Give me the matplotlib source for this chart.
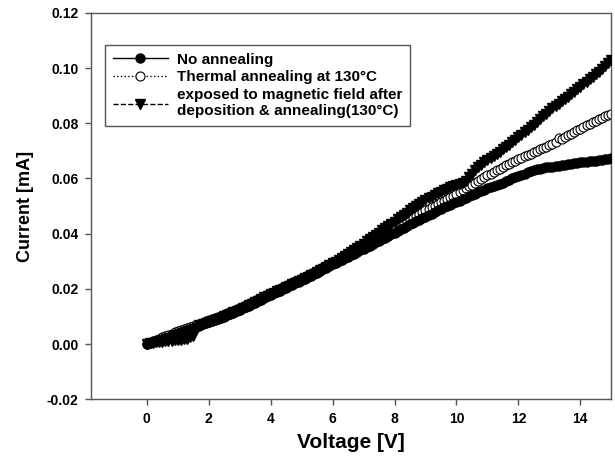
import numpy as np
import matplotlib
matplotlib.use("Agg")
import matplotlib.pyplot as plt

plt.rcParams['font.family'] = ['Liberation Sans', 'DejaVu Sans']
plt.rcParams['font.weight'] = 'bold'

# voltage sweep, 0.1 V steps from 0 to 15 V
voltage = np.linspace(0, 15, 151)

# current [mA]
no_annealing = [
    0.0000, 0.0003, 0.0007, 0.0011, 0.0015, 0.0019, 0.0023, 0.0027, 0.0031, 0.0035,
    0.0039, 0.0043, 0.0047, 0.0051, 0.0055, 0.0059, 0.0063, 0.0067, 0.0071, 0.0075,
    0.0079, 0.0083, 0.0087, 0.0091, 0.0095, 0.0099, 0.0104, 0.0109, 0.0114, 0.0119,
    0.0124, 0.0129, 0.0134, 0.0139, 0.0144, 0.0149, 0.0155, 0.0161, 0.0167, 0.0173,
    0.0179, 0.0184, 0.0189, 0.0194, 0.0199, 0.0204, 0.0209, 0.0215, 0.0220, 0.0226,
    0.0231, 0.0237, 0.0242, 0.0248, 0.0253, 0.0259, 0.0265, 0.0271, 0.0277, 0.0283,
    0.0289, 0.0295, 0.0300, 0.0306, 0.0311, 0.0317, 0.0322, 0.0328, 0.0333, 0.0339,
    0.0344, 0.0350, 0.0356, 0.0362, 0.0368, 0.0374, 0.0380, 0.0386, 0.0392, 0.0398,
    0.0404, 0.0410, 0.0416, 0.0422, 0.0428, 0.0434, 0.0440, 0.0445, 0.0451, 0.0456,
    0.0462, 0.0467, 0.0473, 0.0478, 0.0484, 0.0489, 0.0495, 0.0500, 0.0505, 0.0510,
    0.0515, 0.0520, 0.0525, 0.0530, 0.0535, 0.0540, 0.0545, 0.0550, 0.0555, 0.0560,
    0.0565, 0.0569, 0.0573, 0.0577, 0.0581, 0.0585, 0.0590, 0.0595, 0.0600, 0.0605,
    0.0610, 0.0614, 0.0618, 0.0622, 0.0626, 0.0630, 0.0633, 0.0636, 0.0638, 0.0640,
    0.0642, 0.0643, 0.0645, 0.0646, 0.0648, 0.0650, 0.0652, 0.0653, 0.0655, 0.0656,
    0.0658, 0.0659, 0.0661, 0.0662, 0.0664, 0.0665, 0.0667, 0.0668, 0.0670, 0.0671,
    0.0673]

thermal = [
    0.0000, 0.0005, 0.0010, 0.0015, 0.0020, 0.0025, 0.0030, 0.0034, 0.0038, 0.0042,
    0.0046, 0.0050, 0.0054, 0.0058, 0.0062, 0.0066, 0.0070, 0.0074, 0.0078, 0.0082,
    0.0086, 0.0090, 0.0094, 0.0098, 0.0102, 0.0106, 0.0111, 0.0116, 0.0121, 0.0126,
    0.0131, 0.0136, 0.0141, 0.0146, 0.0151, 0.0156, 0.0162, 0.0168, 0.0174, 0.0180,
    0.0185, 0.0190, 0.0195, 0.0200, 0.0205, 0.0210, 0.0216, 0.0221, 0.0227, 0.0232,
    0.0238, 0.0243, 0.0249, 0.0254, 0.0260, 0.0266, 0.0272, 0.0278, 0.0284, 0.0290,
    0.0295, 0.0301, 0.0306, 0.0312, 0.0317, 0.0323, 0.0328, 0.0334, 0.0339, 0.0345,
    0.0350, 0.0356, 0.0362, 0.0368, 0.0374, 0.0381, 0.0388, 0.0395, 0.0402, 0.0409,
    0.0416, 0.0423, 0.0430, 0.0437, 0.0444, 0.0451, 0.0458, 0.0465, 0.0472, 0.0478,
    0.0484, 0.0490, 0.0496, 0.0502, 0.0508, 0.0514, 0.0520, 0.0526, 0.0532, 0.0538,
    0.0544, 0.0551, 0.0558, 0.0565, 0.0572, 0.0578, 0.0585, 0.0592, 0.0598, 0.0605,
    0.0612, 0.0618, 0.0624, 0.0630, 0.0636, 0.0642, 0.0648, 0.0654, 0.0660, 0.0665,
    0.0670, 0.0675, 0.0680, 0.0685, 0.0690, 0.0695, 0.0700, 0.0705, 0.0710, 0.0715,
    0.0720, 0.0726, 0.0732, 0.0745, 0.0744, 0.0750, 0.0756, 0.0762, 0.0768, 0.0774,
    0.0780, 0.0786, 0.0792, 0.0798, 0.0804, 0.0810, 0.0815, 0.0820, 0.0825, 0.0830,
    0.0835]

magnetic = [
    0.0000, 0.0002, 0.0004, 0.0006, 0.0008, 0.0009, 0.0010, 0.0011, 0.0012, 0.0013,
    0.0014, 0.0016, 0.0018, 0.0020, 0.0024, 0.0030, 0.0055, 0.0068, 0.0072, 0.0076,
    0.0080, 0.0084, 0.0088, 0.0092, 0.0096, 0.0100, 0.0105, 0.0110, 0.0115, 0.0120,
    0.0125, 0.0131, 0.0136, 0.0141, 0.0146, 0.0151, 0.0157, 0.0163, 0.0169, 0.0175,
    0.0181, 0.0186, 0.0191, 0.0196, 0.0201, 0.0206, 0.0211, 0.0217, 0.0222, 0.0228,
    0.0233, 0.0239, 0.0244, 0.0250, 0.0255, 0.0261, 0.0267, 0.0273, 0.0279, 0.0285,
    0.0292, 0.0298, 0.0305, 0.0312, 0.0319, 0.0326, 0.0333, 0.0340, 0.0348, 0.0356,
    0.0364, 0.0372, 0.0380, 0.0388, 0.0396, 0.0404, 0.0412, 0.0420, 0.0428, 0.0436,
    0.0444, 0.0452, 0.0460, 0.0468, 0.0476, 0.0484, 0.0492, 0.0500, 0.0508, 0.0516,
    0.0522, 0.0528, 0.0534, 0.0540, 0.0546, 0.0552, 0.0558, 0.0563, 0.0568, 0.0573,
    0.0577, 0.0580, 0.0583, 0.0592, 0.0606, 0.0618, 0.0630, 0.0641, 0.0650, 0.0658,
    0.0666, 0.0674, 0.0682, 0.0690, 0.0697, 0.0705, 0.0714, 0.0723, 0.0732, 0.0741,
    0.0750, 0.0759, 0.0768, 0.0777, 0.0786, 0.0795, 0.0805, 0.0815, 0.0825, 0.0835,
    0.0846, 0.0855, 0.0863, 0.0871, 0.0879, 0.0887, 0.0896, 0.0905, 0.0914, 0.0923,
    0.0932, 0.0941, 0.0950, 0.0959, 0.0968, 0.0977, 0.0986, 0.0996, 0.1006, 0.1018,
    0.1030]

labels = ['No annealing',
          'Thermal annealing at 130°C',
          'exposed to magnetic field after\ndeposition & annealing(130°C)']

fig = plt.figure(figsize=(6.15, 4.61), dpi=100)
ax = fig.add_axes([0.148, 0.134, 0.846, 0.838])

ax.plot(voltage, thermal, ls=':', lw=1, color='black', marker='o', ms=6.5,
        mfc='white', mec='black', mew=0.8, label=labels[1], zorder=2)
ax.plot(voltage, no_annealing, ls='-', lw=1, color='black', marker='o', ms=6.5,
        mfc='black', mec='black', label=labels[0], zorder=3)
ax.plot(voltage, magnetic, ls='--', lw=1, color='black', marker='v', ms=6.5,
        mfc='black', mec='black', label=labels[2], zorder=4)

ax.set_xlim(-1.8, 15)
ax.set_ylim(-0.02, 0.12)
ax.set_xticks(range(0, 15, 2))
ax.set_yticks(np.arange(-0.02, 0.121, 0.02))
ax.yaxis.set_major_formatter(matplotlib.ticker.FormatStrFormatter('%.2f'))
ax.tick_params(direction='out', length=4, width=1, color='#555555',
               labelsize=10, top=False, right=False, pad=5)
for lab in ax.get_xticklabels() + ax.get_yticklabels():
    lab.set_fontweight('bold')
for sp in ax.spines.values():
    sp.set_color('#555555')
    sp.set_linewidth(1)

ax.set_xlabel('Voltage [V]', fontsize=15, fontweight='bold', labelpad=5)
ax.set_ylabel('Current [mA]', fontsize=13, fontweight='bold', labelpad=9)

h, l = ax.get_legend_handles_labels()
order = [1, 0, 2]
leg = ax.legend([h[i] for i in order], [l[i] for i in order],
                loc='upper left', bbox_to_anchor=(0.027, 0.917),
                borderaxespad=0, fancybox=False, framealpha=1,
                edgecolor='#555555', handlelength=3.6, handletextpad=0.6,
                labelspacing=0.25, borderpad=0.5,
                numpoints=1, prop={'weight': 'bold', 'size': 11})
leg.get_frame().set_linewidth(1)

fig.savefig('out.png', dpi=100)
